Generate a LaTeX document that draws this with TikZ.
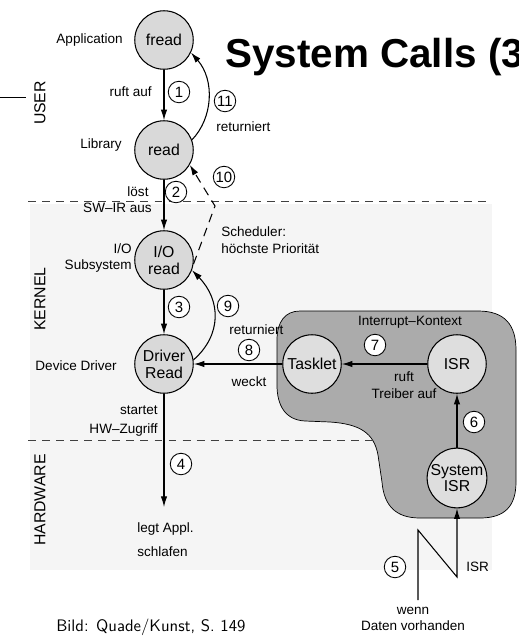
\documentclass[tikz,border=0pt]{standalone}
\usepackage{fontspec}
\setmainfont{Liberation Sans}
\usetikzlibrary{arrows.meta}

\tikzset{
  proc/.style={circle, draw, fill=black!15, line width=0.6pt, minimum size=1.17cm,
    inner sep=0pt, align=center, font=\fontsize{9}{9.6}\selectfont},
  num/.style={circle, draw, fill=white, line width=0.5pt, minimum size=0.43cm,
    inner sep=0pt, font=\fontsize{8.5}{9}\selectfont},
  lbl/.style={inner sep=0pt, font=\fontsize{7.7}{9.4}\selectfont},
  flow/.style={-{Latex[length=6pt,width=3.6pt]}, line width=0.6pt},
  sep/.style={dash pattern=on 4.5pt off 3.5pt, black!75, line width=0.5pt},
  layer/.style={rotate=90, inner sep=0pt, font=\fontsize{9}{10}\selectfont}
}

\begin{document}
\begin{tikzpicture}[x=0.02cm,y=-0.02cm]
  \useasboundingbox (0,0) rectangle (519,637);
  \clip (0,0) rectangle (519,637);

  % scanned page behind kernel part
  \fill[black!4] (30,204) rectangle (492,570);

  % interrupt context
  \filldraw[fill=black!33, line width=0.4pt]
    (300,311) -- (478,311) .. controls (505,311) and (516,325) .. (516,350)
    -- (516,482) .. controls (516,506) and (505,518) .. (480,518)
    -- (420,518) .. controls (396,518) and (384,506) .. (382,482)
    -- (378,455) .. controls (374,433) and (360,424) .. (330,422)
    -- (305,421) .. controls (285,420) and (277,405) .. (277,385)
    -- (277,340) .. controls (277,322) and (285,311) .. (300,311) -- cycle;

  % layers
  \draw[line width=0.5pt] (0,97) -- (26,97);
  \draw[sep] (28,201) -- (490,201);
  \draw[sep] (28,440) -- (372,440);
  \node[layer] (user) at (40,103) {USER};
  \node[layer] (kernel) at (40,299) {KERNEL};
  \node[layer] (hw) at (40,500) {HARDWARE};

  \node[anchor=base west, inner sep=0pt, font=\bfseries\fontsize{23}{26}\selectfont]
    (title) at (225,67) {System Calls (3};

  % processes
  \node[proc] (fread) at (164,40) {fread};
  \node[proc] (read) at (164,150) {read};
  \node[proc] (ioread) at (164,260) {I/O\\read};
  \node[proc] (driver) at (164,364) {Driver\\Read};
  \node[proc, fill=black!13] (tasklet) at (312,364) {Tasklet};
  \node[proc, fill=black!13] (isr) at (457,364) {ISR};
  \node[proc, fill=black!13] (sysisr) at (457,478) {System\\ISR};

  % side labels
  \node[lbl, anchor=east] (app) at (123,40) {Application};
  \node[lbl, anchor=east] (lib) at (122,145) {Library};
  \node[lbl, anchor=east, align=right] (iosub) at (132,258) {I/O\\Subsystem};
  \node[lbl, anchor=east] (devdrv) at (117,366) {Device Driver};
  \node[lbl] (ictx) at (410,322) {Interrupt--Kontext};

  % calls down
  \coordinate (sleep) at (164,507);
  \draw[flow] (fread) -- (read);
  \draw[flow] (read) -- (ioread);
  \draw[flow] (ioread) -- (driver);
  \draw[flow] (driver) -- (sleep);

  \node[num] (n1) at (179,92) {1};
  \node[lbl, anchor=east] (rufa) at (152,92) {ruft auf};
  \node[num] (n2) at (176,192) {2};
  \node[lbl] (loest) at (138,192) {löst};
  \node[lbl, anchor=east] (swir) at (152,208) {SW--IR aus};
  \node[num] (n3) at (179,307) {3};
  \node[lbl, anchor=east, align=right] (hwz) at (158,421) {startet\\[1pt]HW--Zugriff};
  \node[num] (n4) at (181,464) {4};
  \node[lbl, anchor=west, align=left, font=\fontsize{7.7}{13.5}\selectfont]
    (appl) at (137,540) {legt Appl.\\schlafen};

  % interrupt path
  \coordinate (z1) at (418,600);
  \coordinate (z2) at (418,530);
  \coordinate (z3) at (457,577);
  \draw[flow] (z1) -- (z2) -- (z3) -- (sysisr.south);
  \node[num] (n5) at (395,567) {5};
  \node[lbl, anchor=west] (isrl) at (466,567) {ISR};
  \node[lbl, align=center] (daten) at (413,619) {wenn\\Daten vorhanden};

  \draw[flow] (sysisr) -- (isr);
  \node[num] (n6) at (474,422) {6};
  \draw[flow] (isr) -- (tasklet);
  \node[num] (n7) at (375,345) {7};
  \node[lbl, align=center] (treib) at (404,385) {ruft\\Treiber auf};
  \draw[flow] (tasklet) -- (driver);
  \node[num] (n8) at (249,350) {8};
  \node[lbl, anchor=west] (ret2) at (229,330) {returniert};
  \node[lbl] (weckt) at (249,382) {weckt};

  % returns
  \draw[flow] (driver.8) .. controls (222,335) and (221,300) .. (ioread.-20);
  \node[num] (n9) at (228,306) {9};
  \draw[flow, dash pattern=on 5pt off 3.5pt] (ioread.-8) -- (215,206) -- (read.-30);
  \node[num] (n10) at (224,177) {10};
  \node[lbl, anchor=west, align=left] (sched) at (221,240) {Scheduler:\\höchste Priorität};
  \draw[flow] (read.20) .. controls (213,118) and (215,80) .. (fread.-25);
  \node[num] (n11) at (225,101) {11};
  \node[lbl, anchor=west] (ret1) at (216,127) {returniert};

  \node[anchor=west, inner sep=0pt, font=\sffamily\fontsize{9.5}{11}\selectfont]
    (src) at (56,627) {Bild: Quade/Kunst, S. 149};
\end{tikzpicture}
\end{document}
